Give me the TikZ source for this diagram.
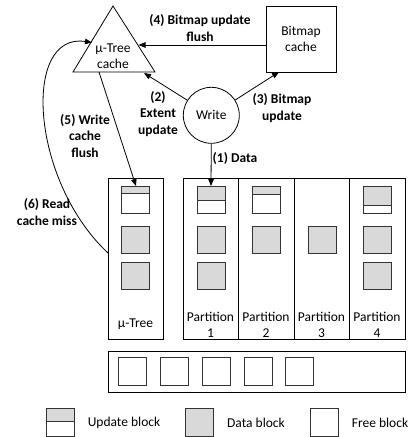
\documentclass[tikz,border=0pt]{standalone}
\usepackage{fontspec}
\setmainfont{Carlito}
\usetikzlibrary{arrows.meta}
\definecolor{bfill}{HTML}{D9D9D9}
\definecolor{bedge}{HTML}{333333}
\begin{document}
\begin{tikzpicture}[x=1pt,y=-1pt,
  every node/.style={font=\fontsize{13.5}{16}\selectfont, align=center, inner sep=0pt},
  lbl/.style={font=\fontsize{13.5}{16.5}\selectfont\bfseries},
  ln/.style={draw=black, line width=0.8pt},
  arr/.style={ln, -{Triangle[length=7pt,width=5.5pt]}},
  col/.style={draw=black, line width=0.8pt, minimum width=#1, minimum height=161pt},
  blk/.style={draw=bedge, line width=0.9pt, minimum width=28pt, minimum height=27pt, fill=bfill},
  freeblk/.style={draw=bedge, line width=0.9pt, minimum width=28pt, minimum height=28pt, fill=white},
  updblk/.style={draw=bedge, line width=0.9pt, minimum width=28pt, minimum height=27pt, fill=white,
    path picture={\fill[bfill] (path picture bounding box.north west) rectangle ([yshift=-#1]path picture bounding box.north east);
      \draw[bedge, line width=0.9pt] ([yshift=-#1]path picture bounding box.north west) -- ([yshift=-#1]path picture bounding box.north east);}}
]
\useasboundingbox (0,0) rectangle (412,437);

% mu-tree cache triangle
\coordinate (tapex) at (113,6);
\coordinate (tl) at (73,72);
\coordinate (tr) at (155,72);
\draw[ln, line join=miter] (tapex) -- (tl) -- (tr) -- cycle;
\node (tcache) at (113,56) {µ-Tree\\cache};

% bitmap cache
\node[draw, line width=0.8pt, minimum width=70pt, minimum height=66pt] (bm) at (301,39) {Bitmap\\cache};

% write circle
\node[draw, circle, line width=0.8pt, minimum size=56pt] (write) at (211.3,115.3) {Write};

% columns
\node[col=55pt] (mut) at (135.5,258.5) {};
\node[col=55pt] (p1) at (210.5,258.5) {};
\node[col=56pt] (p2) at (266,258.5) {};
\node[col=55pt] (p3) at (321.5,258.5) {};
\node[col=56pt] (p4) at (377,258.5) {};

\node (mutl) at (135.5,324) {µ-Tree};
\node (p1l) at (210.5,324.5) {Partition\\1};
\node (p2l) at (266,324.5) {Partition\\2};
\node (p3l) at (321.5,324.5) {Partition\\3};
\node (p4l) at (377,324.5) {Partition\\4};

% blocks
\node[updblk=7pt] (m1) at (135.5,199.5) {};
\node[blk] (m2) at (135.5,239.5) {};
\node[blk] (m3) at (135.5,275.5) {};

\node[updblk=14pt] (a1) at (211,199.5) {};
\node[blk] (a2) at (211,239.5) {};
\node[blk] (a3) at (211,275.5) {};

\node[updblk=8pt] (b1) at (266,199.5) {};
\node[blk] (b2) at (266,239.5) {};

\node[blk] (c2) at (322,239.5) {};

\node[updblk=19pt] (d1) at (377,199.5) {};
\node[blk] (d2) at (377,239.5) {};
\node[blk] (d3) at (377,275.5) {};

% free pool
\node[draw, line width=0.8pt, minimum width=297pt, minimum height=41pt] (pool) at (256.5,371.5) {};
\node[freeblk] (f1) at (132.5,371) {};
\node[freeblk] (f2) at (174,371) {};
\node[freeblk] (f3) at (216,371) {};
\node[freeblk] (f4) at (258,371) {};
\node[freeblk] (f5) at (299.5,371) {};

% legend
\node[updblk=13.5pt, minimum height=28pt] (lu) at (60.5,422) {};
\node (lut) at (124,423) {Update block};
\node[blk, minimum height=28pt] (ld) at (199,422) {};
\node (ldt) at (256,423) {Data block};
\node[freeblk] (lf) at (324.5,422) {};
\node (lft) at (380,423) {Free block};

% connectors
\coordinate (t4) at (138.5,45);
\coordinate (b4) at (266,45);
\draw[arr] (b4) -- (t4);
\node[lbl] (l4) at (200,28) {(4) Bitmap update\\flush};

\coordinate (t2) at (144,73);
\draw[arr] (write) -- (t2);
\node[lbl] (l2) at (158,114) {(2)\\Extent\\update};

\coordinate (b3) at (279,72);
\draw[arr] (write) -- (b3);
\node[lbl] (l3) at (282,108) {(3) Bitmap\\update};

\coordinate (a1top) at (211,186);
\draw[arr] (write.south) -- (a1top);
\node[lbl] (l1) at (235,159) {(1) Data};

\coordinate (t5) at (99,72);
\coordinate (m1top) at (136,186);
\draw[arr] (t5) -- (m1top);
\node[lbl] (l5) at (85,136) {(5) Write\\cache\\flush};

\coordinate (m6) at (108,253);
\coordinate (t6) at (92,42.5);
\draw[arr] (m6) .. controls (30,180) and (22,32) .. (t6);
\node[lbl] (l6) at (47,212) {(6) Read\\cache miss};

\end{tikzpicture}
\end{document}
